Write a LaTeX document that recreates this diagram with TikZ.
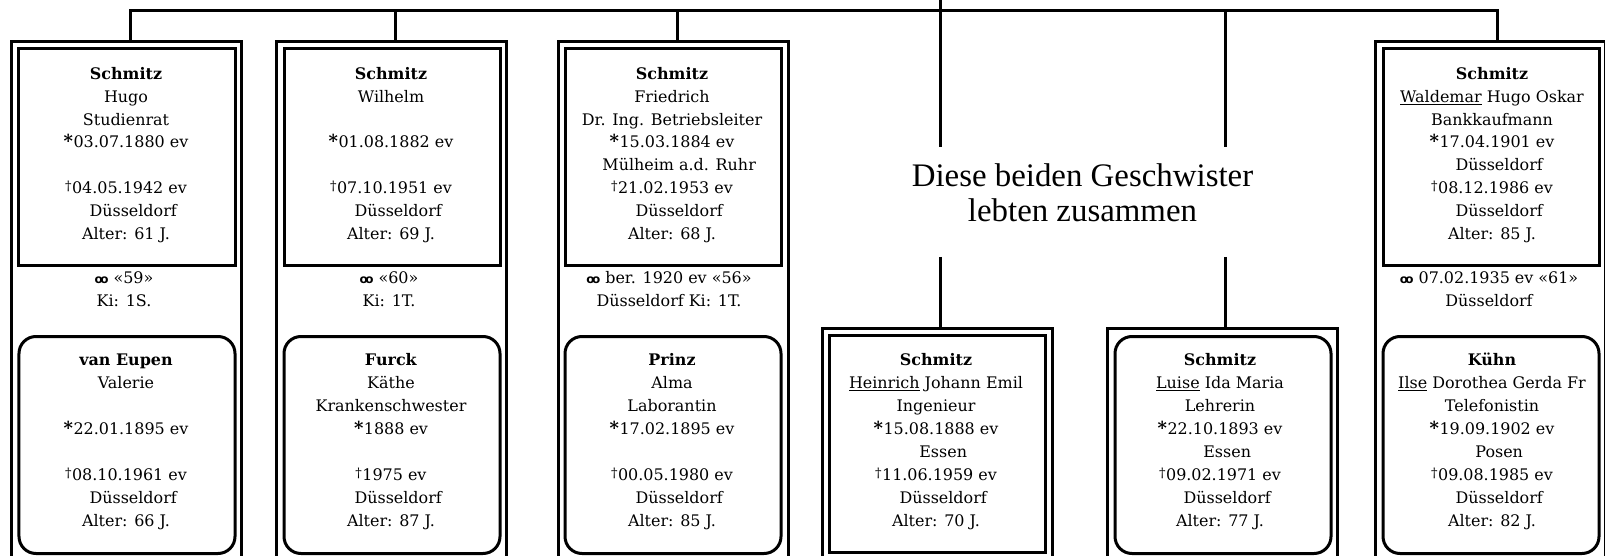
\documentclass[tikz,border=0pt]{standalone}
\usepackage{fontspec}
\setmainfont{DejaVu Serif}
\newfontfamily\notefont{Liberation Serif}
\newfontfamily\symfont{DejaVu Sans}
\newcommand\gebsym{\raisebox{0.5bp}{\fontsize{18}{18}\selectfont\bfseries *}\kern0.5bp}
\newcommand\todsym{\raisebox{3bp}{\fontsize{13}{13}\selectfont †}\kern0.5bp}
\newcommand\heirat{\mbox{\symfont\bfseries\fontsize{12}{12}\selectfont o\kern-2.6bp o}}
\newcommand\ortpad{\hspace*{0.9em}}
\begin{document}
\begin{tikzpicture}[x=1bp,y=-1bp,
  conn/.style={line width=3bp, line join=miter},
  colframe/.style={draw, line width=3bp, inner sep=0pt, outer sep=0pt, minimum width=230bp, minimum height=560bp, anchor=north},
  sqbox/.style={draw, line width=3bp, inner sep=0pt, outer sep=0pt, minimum width=216bp, minimum height=217bp, anchor=north},
  rdbox/.style={sqbox, rounded corners=17bp},
  txt/.style={inner sep=0pt, outer sep=0pt, align=center, anchor=north, font=\fontsize{16}{23}\selectfont},
  note/.style={inner sep=0pt, outer sep=0pt, align=center, anchor=north, font=\notefont\fontsize{33}{35}\selectfont}]
\fill[white] (0,0) rectangle (1605,556);
\path[use as bounding box] (0,0) rectangle (1605,556);
\clip (0,0) rectangle (1605,556);

% column frames
\node[colframe] (f1) at (126.5,41.5) {};
\node[colframe] (f2) at (391.5,41.5) {};
\node[colframe] (f3) at (673.5,41.5) {};
\node[colframe] (f4) at (937.5,328.5) {};
\node[colframe] (f5) at (1222.5,328.5) {};
\node[colframe] (f6) at (1490.5,41.5) {};

% person boxes
\node[sqbox] (a1) at (127,48.5) {};
\node[sqbox] (a2) at (392,48.5) {};
\node[sqbox] (a3) at (673,48.5) {};
\node[sqbox] (a6) at (1491,48.5) {};
\node[rdbox] (b1) at (127,336.5) {};
\node[rdbox] (b2) at (392,336.5) {};
\node[rdbox] (b3) at (673,336.5) {};
\node[rdbox] (b6) at (1491,336.5) {};
\node[sqbox] (h4) at (937,335.5) {};
\node[rdbox] (l5) at (1223,336.5) {};

% junctions
\coordinate (j1) at (130.5,10.5);
\coordinate (j2) at (395.5,10.5);
\coordinate (j3) at (677.5,10.5);
\coordinate (j5) at (1225.5,10.5);
\coordinate (j6) at (1497.5,10.5);
\coordinate (root) at (940.5,0);
\coordinate (g4a) at (940.5,147);
\coordinate (g4b) at (940.5,257);
\coordinate (g5a) at (1225.5,147);
\coordinate (g5b) at (1225.5,257);

\draw[conn] (j1 |- f1.north) -- (j1) -- (j6) -- (j6 |- f6.north);
\draw[conn] (j2) -- (j2 |- f2.north);
\draw[conn] (j3) -- (j3 |- f3.north);
\draw[conn] (root) -- (g4a);
\draw[conn] (g4b) -- (g4b |- f4.north);
\draw[conn] (j5) -- (g5a);
\draw[conn] (g5b) -- (g5b |- f5.north);

\node[note] (note) at (1082.5,162.5) {\strut Diese beiden Geschwister\\lebten zusammen};

% texts top row
\node[txt] (t1) at (126,63.2) {\strut\textbf{Schmitz}\\Hugo\\Studienrat\\\gebsym03.07.1880 ev\\\strut\\\todsym04.05.1942 ev\\\ortpad Düsseldorf\\Alter: 61 J.};
\node[txt] (t2) at (391,63.2) {\strut\textbf{Schmitz}\\Wilhelm\\\strut\\\gebsym01.08.1882 ev\\\strut\\\todsym07.10.1951 ev\\\ortpad Düsseldorf\\Alter: 69 J.};
\node[txt] (t3) at (672,63.2) {\strut\textbf{Schmitz}\\Friedrich\\Dr. Ing. Betriebsleiter\\\gebsym15.03.1884 ev\\\ortpad Mülheim a.d. Ruhr\\\todsym21.02.1953 ev\\\ortpad Düsseldorf\\Alter: 68 J.};
\node[txt] (t6) at (1492,63.2) {\strut\textbf{Schmitz}\\\underline{Waldemar} Hugo Oskar\\Bankkaufmann\\\gebsym17.04.1901 ev\\\ortpad Düsseldorf\\\todsym08.12.1986 ev\\\ortpad Düsseldorf\\Alter: 85 J.};

% marriage texts
\node[txt] (m1) at (124,267.9) {\strut\heirat\ «59»\\Ki: 1S.};
\node[txt] (m2) at (389,267.9) {\strut\heirat\ «60»\\Ki: 1T.};
\node[txt] (m3) at (669,267.9) {\strut\heirat\ ber. 1920 ev «56»\\Düsseldorf Ki: 1T.};
\node[txt] (m6) at (1489,267.9) {\strut\heirat\ 07.02.1935 ev «61»\\Düsseldorf};

% texts bottom row
\node[txt] (s1) at (126,349.9) {\strut\textbf{van Eupen}\\Valerie\\\strut\\\gebsym22.01.1895 ev\\\strut\\\todsym08.10.1961 ev\\\ortpad Düsseldorf\\Alter: 66 J.};
\node[txt] (s2) at (391,349.9) {\strut\textbf{Furck}\\Käthe\\Krankenschwester\\\gebsym1888 ev\\\strut\\\todsym1975 ev\\\ortpad Düsseldorf\\Alter: 87 J.};
\node[txt] (s3) at (672,349.9) {\strut\textbf{Prinz}\\Alma\\Laborantin\\\gebsym17.02.1895 ev\\\strut\\\todsym00.05.1980 ev\\\ortpad Düsseldorf\\Alter: 85 J.};
\node[txt] (s4) at (936,349.9) {\strut\textbf{Schmitz}\\\underline{Heinrich} Johann Emil\\Ingenieur\\\gebsym15.08.1888 ev\\\ortpad Essen\\\todsym11.06.1959 ev\\\ortpad Düsseldorf\\Alter: 70 J.};
\node[txt] (s5) at (1220,349.9) {\strut\textbf{Schmitz}\\\underline{Luise} Ida Maria\\Lehrerin\\\gebsym22.10.1893 ev\\\ortpad Essen\\\todsym09.02.1971 ev\\\ortpad Düsseldorf\\Alter: 77 J.};
\node[txt] (s6) at (1492,349.9) {\strut\textbf{Kühn}\\\underline{Ilse} Dorothea Gerda Fr\\Telefonistin\\\gebsym19.09.1902 ev\\\ortpad Posen\\\todsym09.08.1985 ev\\\ortpad Düsseldorf\\Alter: 82 J.};
\end{tikzpicture}
\end{document}
